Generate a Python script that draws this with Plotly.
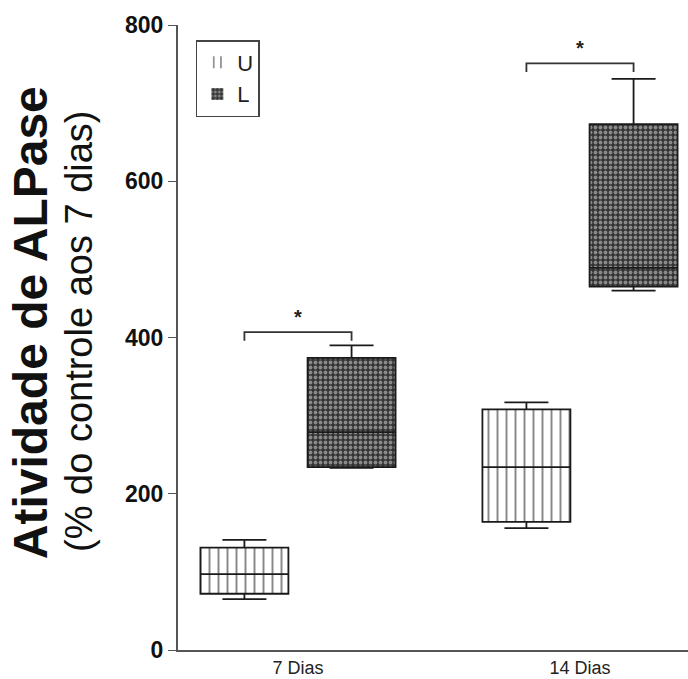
import plotly.graph_objects as go

categories = ["7 Dias", "14 Dias"]
series_names = ["U", "L"]

# box statistics (% of 7-day control)
U_low = [65, 156]
U_q1 = [72, 164]
U_med = [97, 234]
U_q3 = [131, 308]
U_high = [141, 317]

L_low = [233, 460]
L_q1 = [234, 465]
L_med = [279, 489]
L_q3 = [374, 673]
L_high = [390, 731]

sig_level = [407, 751]
sig_text = ["*", "*"]

y_ticks = [0, 200, 400, 600, 800]

# group layout (fractions of category spacing)
OFFSET = 0.19
WIDTH = 0.312

cat_idx = list(range(len(categories)))
U_x = [i - OFFSET for i in cat_idx]
L_x = [i + OFFSET for i in cat_idx]

FONT = "Liberation Sans, Arial, sans-serif"

fig = go.Figure()

# patterned fills
fig.add_trace(go.Bar(
    x=U_x, y=[h - l for h, l in zip(U_q3, U_q1)], base=U_q1, width=WIDTH, name="U",
    marker=dict(color="white", line=dict(width=0),
                pattern=dict(shape="|", size=9, solidity=0.22, fgcolor="#111", bgcolor="white")),
    hoverinfo="skip",
))
fig.add_trace(go.Bar(
    x=L_x, y=[h - l for h, l in zip(L_q3, L_q1)], base=L_q1, width=WIDTH, name="L",
    marker=dict(color="#666", line=dict(width=0),
                pattern=dict(shape=".", size=5, solidity=0.45, fgcolor="#e0e0e0", bgcolor="#333333")),
    hoverinfo="skip",
))

# box outlines and whiskers
for name, xs, lo, q1, md, q3, hi in [("U", U_x, U_low, U_q1, U_med, U_q3, U_high),
                                     ("L", L_x, L_low, L_q1, L_med, L_q3, L_high)]:
    fig.add_trace(go.Box(
        x=xs, lowerfence=lo, q1=q1, median=md, q3=q3, upperfence=hi,
        name=name, showlegend=False, fillcolor="rgba(0,0,0,0)",
        line=dict(color="#1a1a1a", width=1.8), whiskerwidth=0.5, width=WIDTH,
        hoverinfo="skip",
    ))

# significance brackets
for i, (yv, txt) in enumerate(zip(sig_level, sig_text)):
    x0 = U_x[i]
    x1 = L_x[i]
    fig.add_shape(type="path", xref="x", yref="y",
                  path=f"M {x0} {yv - 11} L {x0} {yv} L {x1} {yv} L {x1} {yv - 11}",
                  line=dict(color="#333", width=1.8))
    fig.add_annotation(x=(x0 + x1) / 2, y=yv, xref="x", yref="y", text=txt, showarrow=False,
                       yanchor="bottom", yshift=2,
                       font=dict(family=FONT, size=20, color="#222", weight="bold"))

# y-axis titles
fig.add_annotation(xref="paper", yref="paper", x=-0.29, y=0.523, text="<b>Atividade de ALPase</b>",
                   textangle=-90, showarrow=False, xanchor="center", yanchor="middle",
                   font=dict(family=FONT, size=48, color="#111"))
fig.add_annotation(xref="paper", yref="paper", x=-0.194, y=0.509, text="(% do controle aos 7 dias)",
                   textangle=-90, showarrow=False, xanchor="center", yanchor="middle",
                   font=dict(family=FONT, size=38, color="#111"))

fig.update_layout(
    width=688, height=679,
    margin=dict(l=178, r=0, t=25, b=29, autoexpand=False),
    paper_bgcolor="white", plot_bgcolor="white",
    boxmode="overlay", barmode="overlay",
    showlegend=True,
    legend=dict(x=0.035, y=0.976, xanchor="left", yanchor="top",
                bordercolor="#444", borderwidth=1.5, bgcolor="white",
                font=dict(family=FONT, size=22, color="#222"),
                tracegroupgap=2, itemwidth=30),
    font=dict(family=FONT, color="#111"),
)
fig.update_xaxes(range=[-0.4255, 1.383], tickvals=cat_idx, ticktext=categories, automargin=False,
                 showline=True, linecolor="#555", linewidth=2,
                 ticks="", showgrid=False, zeroline=False,
                 tickfont=dict(family=FONT, size=18, color="#222"))
fig.update_yaxes(range=[0, 800], tickvals=y_ticks, automargin=False,
                 showline=True, linecolor="#555", linewidth=2,
                 ticks="outside", ticklen=8, tickcolor="#555", showgrid=False, zeroline=False,
                 tickfont=dict(family=FONT, size=23, color="#111", weight="bold"))

fig.write_html("out.html", config={"displayModeBar": False},
               post_script="document.body.style.margin='0';document.body.style.overflow='hidden';")
